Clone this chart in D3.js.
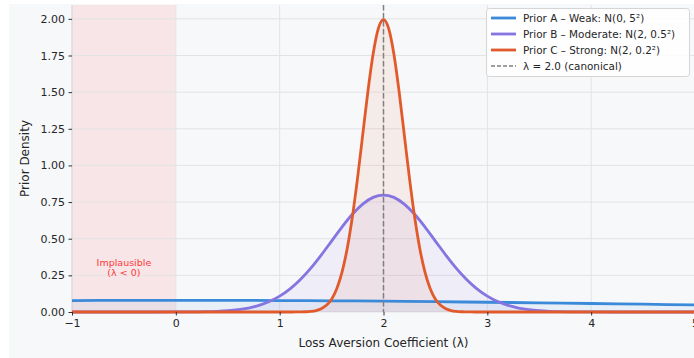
<!DOCTYPE html>
<html><head><meta charset="utf-8">
<script src="https://cdn.jsdelivr.net/npm/d3@7"></script>
<style>body{margin:0;background:#fff;font-family:"DejaVu Sans",sans-serif;}</style>
</head><body><svg id="c" width="694" height="358"></svg>
<script>
const xTicks = [-1, 0, 1, 2, 3, 4, 5];
const yTicks = [0, 0.25, 0.5, 0.75, 1.0, 1.25, 1.5, 1.75, 2.0];

const seriesNames = ["Prior A – Weak: N(0, 5²)", "Prior B – Moderate: N(2, 0.5²)", "Prior C – Strong: N(2, 0.2²)"];
const seriesColors = ["#3b8ad9", "#8674e0", "#e15a2c"];

const xA = [-1, -0.5, 0, 0.5, 1, 1.5, 2, 2.5, 3, 3.5, 4, 4.5, 5];
const yA = [0.0782, 0.0794, 0.0798, 0.0794, 0.0782, 0.0763, 0.0737, 0.0704, 0.0666, 0.0625, 0.0579, 0.0532, 0.0484];

const xB = [-1, -0.5, 0.0, 0.1, 0.2, 0.3, 0.4, 0.5, 0.6, 0.7, 0.8, 0.9, 1.0, 1.1, 1.2, 1.3, 1.4, 1.5, 1.6, 1.7, 1.8, 1.9, 2.0,
            2.1, 2.2, 2.3, 2.4, 2.5, 2.6, 2.7, 2.8, 2.9, 3.0, 3.1, 3.2, 3.3, 3.4, 3.5, 3.6, 3.7, 3.8, 3.9, 4.0, 4.5, 5];
const yB = [0, 0, 0.0003, 0.0006, 0.0012, 0.0025, 0.0048, 0.0089, 0.0158, 0.0272, 0.0448, 0.0710, 0.1080, 0.1579, 0.2218, 0.2995, 0.3884, 0.4839, 0.5794, 0.6665, 0.7365, 0.7821, 0.7979,
            0.7821, 0.7365, 0.6665, 0.5794, 0.4839, 0.3884, 0.2995, 0.2218, 0.1579, 0.1080, 0.0710, 0.0448, 0.0272, 0.0158, 0.0089, 0.0048, 0.0025, 0.0012, 0.0006, 0.0003, 0, 0];

const xC = [-1, 0, 1.0, 1.1, 1.15, 1.2, 1.25, 1.3, 1.35, 1.4, 1.45, 1.5, 1.55, 1.6, 1.65, 1.7, 1.75, 1.8, 1.85, 1.9, 1.95, 2.0,
            2.05, 2.1, 2.15, 2.2, 2.25, 2.3, 2.35, 2.4, 2.45, 2.5, 2.55, 2.6, 2.65, 2.7, 2.75, 2.8, 2.85, 2.9, 3.0, 4, 5];
const yC = [0, 0, 0, 0, 0.0002, 0.0007, 0.0018, 0.0044, 0.0101, 0.0222, 0.0455, 0.0876, 0.1587, 0.2700, 0.4314, 0.6476, 0.9132, 1.2098, 1.5057, 1.7603, 1.9333, 1.9947,
            1.9333, 1.7603, 1.5057, 1.2098, 0.9132, 0.6476, 0.4314, 0.2700, 0.1587, 0.0876, 0.0455, 0.0222, 0.0101, 0.0044, 0.0018, 0.0007, 0.0002, 0, 0, 0, 0];

const canonical = 2.0;
const implausibleRange = [-1, 0];

const svg = d3.select("#c");
const L = 72, R = 695, T = 5, B = 312;
const x = d3.scaleLinear().domain([-1, 5]).range([L, R]);
const y = d3.scaleLinear().domain([0, 2.0945]).range([B, T]);

svg.append("rect").attr("x", 9).attr("y", 4).attr("width", 694).attr("height", 358).attr("fill", "#f7f8fa");

// implausible shading
svg.append("rect").attr("x", x(implausibleRange[0])).attr("y", T)
  .attr("width", x(implausibleRange[1]) - x(implausibleRange[0])).attr("height", B - T)
  .attr("fill", "#f7e5e7");

// grid
const g = svg.append("g");
g.selectAll(".gy").data(yTicks).join("line").attr("x1", L).attr("x2", R)
  .attr("y1", d => y(d)).attr("y2", d => y(d)).attr("stroke", "#e3e3e5").attr("stroke-width", 1);
g.selectAll(".gx").data(xTicks).join("line").attr("y1", T).attr("y2", B)
  .attr("x1", d => x(d)).attr("x2", d => x(d)).attr("stroke", "#e3e3e5").attr("stroke-width", 1);

// left spine
svg.append("line").attr("x1", L).attr("x2", L).attr("y1", T).attr("y2", B).attr("stroke", "#d8d8d8").attr("stroke-width", 1);

const series = [[xA, yA], [xB, yB], [xC, yC]];
const area = d3.area().x(d => x(d[0])).y0(y(0)).y1(d => y(d[1])).curve(d3.curveMonotoneX);
const line = d3.line().x(d => x(d[0])).y(d => y(d[1])).curve(d3.curveMonotoneX);
svg.append("clipPath").attr("id", "clp").append("rect").attr("x", L).attr("y", T).attr("width", R - L).attr("height", B - T + 2);
series.forEach((s, i) => {
  const pts = s[0].map((v, j) => [v, s[1][j]]);
  svg.append("path").datum(pts).attr("d", area).attr("fill", seriesColors[i]).attr("fill-opacity", 0.08).attr("clip-path", "url(#clp)");
});
series.forEach((s, i) => {
  const pts = s[0].map((v, j) => [v, s[1][j]]);
  svg.append("path").datum(pts).attr("d", line).attr("fill", "none").attr("stroke", seriesColors[i])
    .attr("stroke-width", 2.8).attr("stroke-linejoin", "round").attr("clip-path", "url(#clp)");
});

// canonical line
svg.append("line").attr("x1", x(canonical)).attr("x2", x(canonical)).attr("y1", T).attr("y2", B)
  .attr("stroke", "#808080").attr("stroke-width", 1.5).attr("stroke-dasharray", "5.5,2.5");

// implausible label
const it = svg.append("text").attr("x", x(-0.5)).attr("text-anchor", "middle").attr("fill", "#ff3838")
  .attr("font-size", 9.5);
it.append("tspan").attr("x", x(-0.5)).attr("y", 266).text("Implausible");
it.append("tspan").attr("x", x(-0.5)).attr("y", 276).text("(λ < 0)");

// axes
const xAxis = d3.axisBottom(x).tickValues(xTicks).tickSize(3.5).tickPadding(3.5)
  .tickFormat(d => d < 0 ? "−" + Math.abs(d) : String(d));
const gx = svg.append("g").attr("transform", `translate(0,${B})`).call(xAxis);
gx.select(".domain").remove();
gx.selectAll("line").attr("stroke", "#333");
gx.selectAll("text").attr("font-size", 11).attr("fill", "#262626").attr("font-family", "DejaVu Sans");

const yAxis = d3.axisLeft(y).tickValues(yTicks).tickSize(3.5).tickPadding(3.5).tickFormat(d3.format(".2f"));
const gy = svg.append("g").attr("transform", `translate(${L},0)`).call(yAxis);
gy.select(".domain").remove();
gy.selectAll("line").attr("stroke", "#333");
gy.selectAll("text").attr("font-size", 11).attr("fill", "#262626").attr("font-family", "DejaVu Sans");

svg.append("text").attr("x", (L + R) / 2).attr("y", 347).attr("text-anchor", "middle")
  .attr("font-size", 12).attr("fill", "#262626").text("Loss Aversion Coefficient (λ)");
svg.append("text").attr("transform", `translate(29,${(T + B) / 2}) rotate(-90)`).attr("text-anchor", "middle")
  .attr("font-size", 12).attr("fill", "#262626").text("Prior Density");

// legend
const lg = svg.append("g");
lg.append("rect").attr("x", 486.5).attr("y", 8.5).attr("width", 203).attr("height", 68).attr("rx", 3)
  .attr("fill", "#fff").attr("fill-opacity", 0.85).attr("stroke", "#d5d5d5");
const legendItems = seriesNames.map((n, i) => ({ n, c: seriesColors[i], dash: null }))
  .concat([{ n: "λ = 2.0 (canonical)", c: "#808080", dash: "4,2" }]);
legendItems.forEach((d, i) => {
  const yy = 18 + i * 16;
  lg.append("line").attr("x1", 491).attr("x2", 516).attr("y1", yy).attr("y2", yy)
    .attr("stroke", d.c).attr("stroke-width", d.dash ? 1.5 : 2.8).attr("stroke-dasharray", d.dash);
  lg.append("text").attr("x", 523).attr("y", yy + 3.7).attr("font-size", 10.4).attr("fill", "#262626").text(d.n);
});
</script></body></html>
